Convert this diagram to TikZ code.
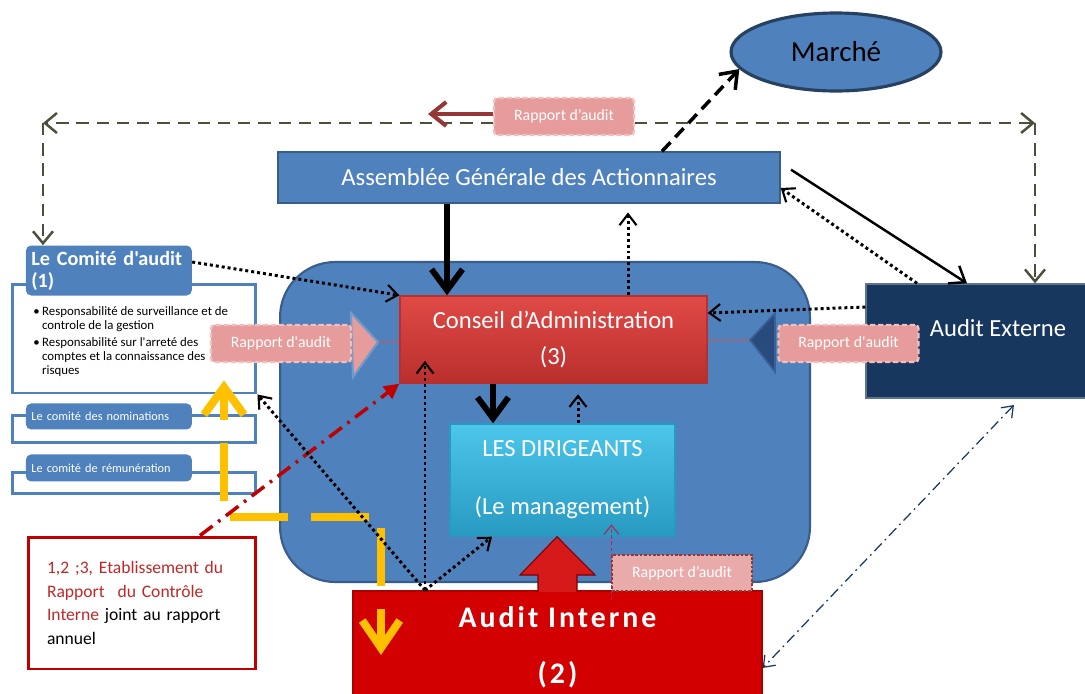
\documentclass[tikz,border=0pt]{standalone}
\usepackage{fontspec}
\setmainfont{Carlito}[Ligatures=TeXOff]
\usetikzlibrary{arrows.meta,positioning,calc,shapes.geometric}
\definecolor{officeblue}{RGB}{79,129,189}
\definecolor{blueline}{RGB}{56,93,138}
\definecolor{navy}{RGB}{23,55,94}
\definecolor{navyhead}{RGB}{41,74,124}
\definecolor{catop}{RGB}{224,74,70}
\definecolor{cabot}{RGB}{185,47,45}
\definecolor{dirtop}{RGB}{76,198,234}
\definecolor{dirbot}{RGB}{40,154,194}
\definecolor{aired}{RGB}{210,0,0}
\definecolor{pinkfill}{RGB}{229,156,155}
\definecolor{pinkline}{RGB}{242,190,190}
\definecolor{olivegrey}{RGB}{78,78,60}
\definecolor{gold}{RGB}{255,192,0}
\definecolor{darkred}{RGB}{149,55,53}
\definecolor{txtred}{RGB}{192,40,40}
\definecolor{frred}{RGB}{192,0,0}

\begin{document}
\begin{tikzpicture}[x=0.02cm, y=-0.02cm,
    blk/.style={rectangle, draw=blueline, line width=0.8pt, inner sep=0pt, text=white, align=center},
    hdr/.style={rectangle, rounded corners=3pt, fill=officeblue, inner sep=0pt, text=white,
                minimum width=3.32cm, text width=3.1cm, align=left, anchor=west},
    frm/.style={rectangle, draw=officeblue, line width=1.7pt, fill=white, minimum width=4.88cm, inner sep=0pt},
    rapp/.style={rectangle, rounded corners=2pt, fill=pinkfill, draw=pinkline, dash pattern=on 3pt off 1.5pt,
                 line width=1.3pt, text=white, minimum width=2.8cm, minimum height=0.74cm,
                 font=\fontsize{9}{10}\selectfont},
    fatarr/.style={line width=3.4pt, -{Straight Barb[length=0.42cm, width=0.62cm]}},
    dotarr/.style={line width=1.7pt, dash pattern=on 1.7pt off 1.7pt,
                   -{Straight Barb[length=0.22cm, width=0.34cm, line width=1.2pt]}},
    bounce/.style={draw=olivegrey, line width=1.4pt, dash pattern=on 7pt off 4.5pt,
                   -{Straight Barb[length=0.24cm, width=0.4cm]}}
]
\fill[white] (0,0) rectangle (1085,693);
\useasboundingbox (0,0) rectangle (1085,693);

% the company
\node[rectangle, rounded corners=1.1cm, fill=officeblue, draw=blueline, line width=1.2pt,
      minimum width=10.6cm, minimum height=6.4cm] (ent) at (545,422) {};
\coordinate (ltip) at (378,342);
\coordinate (rtip) at (750,340);
\draw[cabot!80!white, line width=0.6pt] (ltip) -- (rtip);

\node[blk, fill=officeblue, minimum width=10.04cm, minimum height=1.02cm,
      font=\fontsize{14}{16}\selectfont] (ag) at (529,177.5) {Assemblée Générale des Actionnaires};
\node[blk, draw=cabot, top color=catop, bottom color=cabot, minimum width=6.14cm, minimum height=1.74cm,
      font=\fontsize{14}{20.4}\selectfont] (ca) at (553.5,339.5) {Conseil d’Administration\\(3)};
\node[blk, draw=dirbot, top color=dirtop, bottom color=dirbot, minimum width=4.5cm, minimum height=2.24cm,
      font=\fontsize{14}{32.9}\selectfont] (dir) at (562.5,480) {LES DIRIGEANTS\\(Le management)};
\node[blk, draw=aired!80!black, fill=aired, minimum width=8.18cm, minimum height=2.24cm,
      font=\fontsize{17}{31.7}\selectfont\bfseries\addfontfeature{LetterSpace=10}] (ai) at (557.5,647) {Audit Interne\\(2)};
\node[blk, draw=navy!70!white, fill=navy, minimum width=4.48cm, minimum height=2.28cm] (ae) at (978,341) {};
\node[text=white, font=\fontsize{14}{16}\selectfont] (aetxt) at (998,328) {Audit Externe};
\node[ellipse, draw=blueline!70!black, line width=1.8pt, fill=officeblue, minimum width=4.2cm,
      minimum height=1.56cm, font=\fontsize{16.5}{18}\selectfont] (mar) at (836,52) {Marché};

% committees
\node[frm, minimum height=2.18cm] (cf1) at (134,338.5) {};
\node[frm, minimum height=0.54cm, below=0.4cm of cf1] (cf2) {};
\node[frm, minimum height=0.42cm, below=0.54cm of cf2] (cf3) {};
\node[hdr, minimum height=1cm, font=\bfseries\fontsize{11.5}{12.5}\selectfont]
     (h1) at ([xshift=0.3cm, yshift=0.24cm]cf1.north west) {Le Comité d'audit\\(1)};
\node[hdr, minimum height=0.52cm, font=\fontsize{7}{8}\selectfont]
     (h2) at ([xshift=0.3cm, yshift=-0.04cm]cf2.north west) {Le comité des nominations};
\node[hdr, minimum height=0.54cm, font=\fontsize{7}{8}\selectfont]
     (h3) at ([xshift=0.3cm, yshift=0.07cm]cf3.north west) {Le comité de rémunération};
\node[anchor=north west, inner sep=0pt, align=left, font=\fontsize{7.3}{8}\selectfont] (bul) at (33,306)
     {\makebox[5pt][l]{\textbullet}Responsabilité de surveillance et de\\
      \hspace*{5pt}controle de la gestion\\[2pt]
      \makebox[5pt][l]{\textbullet}Responsabilité sur l'arreté des\\
      \hspace*{5pt}comptes et la connaissance des\\
      \hspace*{5pt}risques};

\node[rectangle, draw=frred, line width=1.7pt, fill=white, minimum width=4.56cm, minimum height=2.64cm,
      text width=3.8cm, align=left, inner sep=0pt, font=\fontsize{10}{13.6}\selectfont] (rap) at (142,603)
     {\textcolor{txtred}{1,2 ;3, Etablissement du}\\
      \textcolor{txtred}{Rapport\hspace{0.4em} du Contrôle}\\
      \textcolor{txtred}{Interne} joint au rapport\\
      annuel};

% report loop at the top
\node[rapp] (rtop) at (564,116.5) {Rapport d’audit};
\coordinate (cl) at (43,123);
\coordinate (cr) at (1035,123);
\coordinate (rarr) at (428,114);
\draw[bounce] (rtop.west |- cl) -- (cl);
\draw[bounce] (cl) -- (h1.north -| cl);
\draw[bounce] (rtop.east |- cr) -- (cr);
\draw[bounce] (cr) -- (ae.north -| cr);
\draw[darkred, line width=2.3pt, -{Straight Barb[length=0.3cm, width=0.48cm]}] (rtop.west |- rarr) -- (rarr);

% internal audit to management
\fill[aired!90!white] (538,592) -- (538,575) -- (520,575) -- (557,0 |- dir.south) -- (595,575) -- (577,575) -- (577,592) -- cycle;
\draw[aired!60!black, line width=0.6pt] (538,592) -- (538,575) -- (520,575) -- (557,0 |- dir.south) -- (595,575) -- (577,575) -- (577,592);
\node[rapp, rounded corners=0pt, draw=darkred, dash pattern=on 1.5pt off 1pt, line width=0.6pt,
      fill=pinkfill!85!white, minimum height=0.72cm] (rbot) at (682,573) {Rapport d’audit};
\draw[darkred!80!magenta, line width=0.7pt, dash pattern=on 2pt off 1.5pt,
      -{Straight Barb[length=0.18cm, width=0.3cm]}, shorten <=-5pt, shorten >=-7pt]
     (rbot.south west) -- (rbot.west |- dir.south);

% reports to the board
\draw[fill=pinkfill, draw=officeblue!80!white, line width=1.2pt] (351,313) -- (ltip) -- (353,377) -- cycle;
\draw[fill=navyhead, draw=officeblue!60!navy, line width=1pt] (775,313) -- (rtip) -- (775,372) -- cycle;
\node[rapp] (rleft) at (281,343.5) {Rapport d'audit};
\node[rapp] (rright) at (848.5,343.5) {Rapport d'audit};

% yellow path
\coordinate (ylow) at (381,655);
\draw[gold, line width=4.5pt, dash pattern=on 33pt off 13pt, dash phase=13pt,
      {Straight Barb[length=0.55cm, width=0.75cm]}-{Straight Barb[length=0.55cm, width=0.8cm]}, shorten >=-8pt]
     (ylow) -- (381,517) -- (224,517) -- (cf1.south -| 224,0);

\draw[frred, line width=2pt, dash pattern=on 9pt off 4pt on 1.5pt off 4pt,
      -{Triangle[length=0.3cm, width=0.3cm]}] (200,0 |- rap.north) -- (ca.south west);

% board, shareholders, management
\draw[fatarr] (447,0 |- ag.south) -- (447,0 |- ca.north);
\draw[dotarr, shorten >=5pt] (628,0 |- ca.north) -- (628,0 |- ag.south);
\draw[fatarr] (493,0 |- ca.south) -- (493,0 |- dir.north);
\draw[dotarr, shorten >=6pt] (578,0 |- dir.north) -- (578,0 |- ca.south);
\draw[dotarr] (h1.east |- 0,262) -- (ca.north west);
\draw[dotarr] (ae.west |- 0,307) -- (ca.east |- 0,313);

\coordinate (aitop) at (425,0 |- ai.north);
\draw[dotarr, shorten >=-13pt] (aitop) -- (ca.south -| aitop);
\draw[dotarr] (aitop) -- (492,0 |- dir.south);
\draw[dotarr] (aitop) -- (cf1.south east);

% external audit
\draw[line width=1.4pt, -{Straight Barb[length=0.28cm, width=0.42cm]}, shorten <=7pt]
     (ag.east |- 0,163) -- (967,0 |- ae.north);
\draw[dotarr] (917,0 |- ae.north) -- (ag.east |- 0,188);
\draw[navy, line width=0.7pt, dash pattern=on 6pt off 2.5pt on 1pt off 2.5pt,
      {Straight Barb[length=0.2cm, width=0.3cm]}-{Straight Barb[length=0.2cm, width=0.3cm]}, shorten <=5pt]
     (ae.south -| 1020,0) -- (ai.east |- 0,668);

% market
\draw[line width=2pt, dash pattern=on 7pt off 4pt, -{Straight Barb[length=0.3cm, width=0.45cm]}]
     (662,0 |- ag.north) -- (mar.190);
\end{tikzpicture}
\end{document}
